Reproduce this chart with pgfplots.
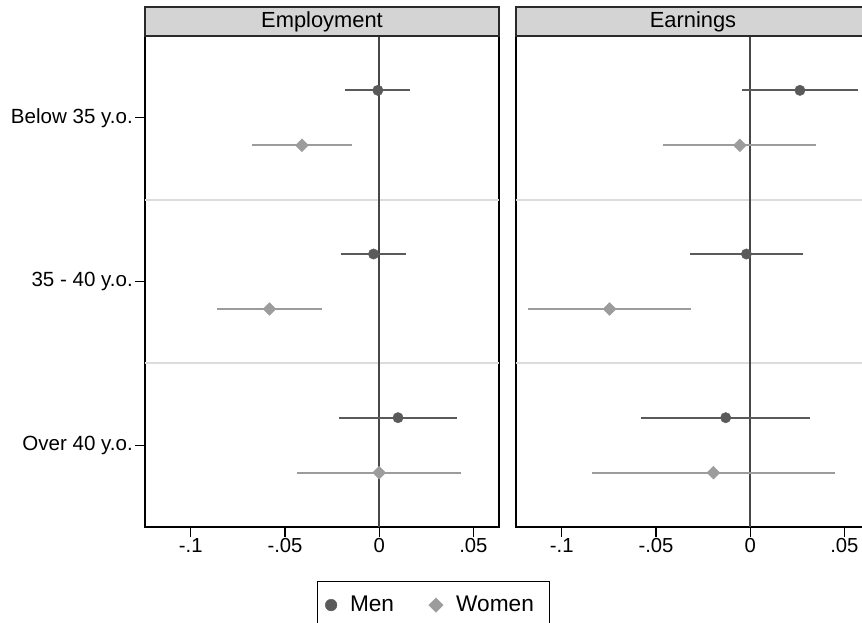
\documentclass[border=0pt]{standalone}
\usepackage{fontspec}
\setmainfont{Liberation Sans}
\usepackage{pgfplots}
\usepackage{pgfplotstable}
\pgfplotsset{compat=1.18}

\definecolor{mencol}{HTML}{5A5A5A}
\definecolor{womencol}{HTML}{9C9C9C}
\definecolor{sepcol}{HTML}{DCDCDC}
\definecolor{zerocol}{HTML}{474747}
\definecolor{stripcol}{HTML}{D4D4D4}
\definecolor{stripline}{HTML}{2A2A2A}

% Point estimates (x) with half-width of the confidence interval (ex)
\pgfplotstableread{
y      x        ex
0.832  -0.0007  0.0173
1.832  -0.0030  0.0171
2.832   0.0100  0.0313
}\empmen
\pgfplotstableread{
y      x        ex
1.168  -0.0410  0.0264
2.168  -0.0582  0.0277
3.168   0.0000  0.0434
}\empwomen
\pgfplotstableread{
y      x        ex
0.832   0.0264  0.0310
1.832  -0.0020  0.0302
2.832  -0.0130  0.0449
}\earnmen
\pgfplotstableread{
y      x        ex
1.168  -0.0055  0.0406
2.168  -0.0746  0.0432
3.168  -0.0195  0.0645
}\earnwomen

\pgfplotsset{
  panel/.style={
    scale only axis, width=265.5pt, height=368.25pt,
    xmin=-0.1243, xmax=0.0636, ymin=0.5, ymax=3.5, y dir=reverse,
    xtick={-0.1,-0.05,0,0.05}, xticklabels={-.1,-.05,0,.05},
    xtick pos=bottom, ytick pos=left, tick align=outside,
    major tick length=7.5pt,
    axis line style={line width=1.2pt, black},
    tick style={line width=0.9pt, black},
    xticklabel style={font=\fontsize{15.2}{17}\selectfont, inner sep=1pt},
    yticklabel style={font=\fontsize{15.4}{18}\selectfont, inner sep=1.5pt},
    clip=false,
  },
  men/.style={only marks, mark=*, mark size=3.9pt, color=mencol,
    mark options={draw=mencol, fill=mencol, line width=0.3pt},
    error bars/x dir=both, error bars/x explicit, error bars/error mark=none,
    error bars/error bar style={line width=1.4pt, mencol}},
  women/.style={only marks, mark=square*, mark size=3.4pt, color=womencol,
    mark options={draw=womencol, fill=womencol, rotate=45, line width=0.3pt},
    error bars/x dir=both, error bars/x explicit, error bars/error mark=none,
    error bars/error bar style={line width=1.4pt, womencol}},
}

\newcommand{\panelguides}{%
  \draw[sepcol, line width=1.5pt] (axis cs:-0.1243,1.5) -- (axis cs:0.0636,1.5);
  \draw[sepcol, line width=1.5pt] (axis cs:-0.1243,2.5) -- (axis cs:0.0636,2.5);
  \draw[zerocol, line width=1.4pt] (axis cs:0,0.5) -- (axis cs:0,3.5);
}

\begin{document}
\begin{tikzpicture}
\begin{axis}[panel, name=emp, at={(108.75pt,-27pt)}, anchor=north west,
    ytick={1,2,3}, yticklabels={Below 35 y.o., 35 - 40 y.o., Over 40 y.o.},
    legend columns=2,
    legend image post style={/tikz/every mark/.append style={scale=1.12}},
    legend style={at={(0.485,-0.110)}, anchor=north west, draw=black,
      line width=0.9pt, font=\fontsize{17}{20}\selectfont,
      nodes={inner sep=0pt},
      inner xsep=6pt, inner ysep=11pt,
      /tikz/every odd column/.append style={column sep=9.8pt},
      /tikz/every even column/.append style={column sep=26pt}},
    legend cell align=left]
  \panelguides
  \addplot[men] table[x=x, y=y, x error=ex] {\empmen};
  \addlegendentry{Men}
  \addplot[women] table[x=x, y=y, x error=ex] {\empwomen};
  \addlegendentry{Women\rule{5.5pt}{0pt}}
\end{axis}
\begin{axis}[panel, name=earn, at={(387pt,-27pt)}, anchor=north west, ytick=\empty]
  \panelguides
  \addplot[men] table[x=x, y=y, x error=ex] {\earnmen};
  \addplot[women] table[x=x, y=y, x error=ex] {\earnwomen};
\end{axis}
% panel strips
\foreach \p/\t in {emp/Employment, earn/Earnings}{
  \draw[fill=stripcol, draw=stripline, line width=1.3pt]
    (\p.north west) rectangle ([yshift=21.75pt]\p.north east);
  \node[font=\fontsize{16.4}{19}\selectfont] at ([yshift=10.4pt]\p.north) {\t};
}
\pgfresetboundingbox
\useasboundingbox (0,0) rectangle (646.5pt,-466.5pt);
\end{tikzpicture}
\end{document}
